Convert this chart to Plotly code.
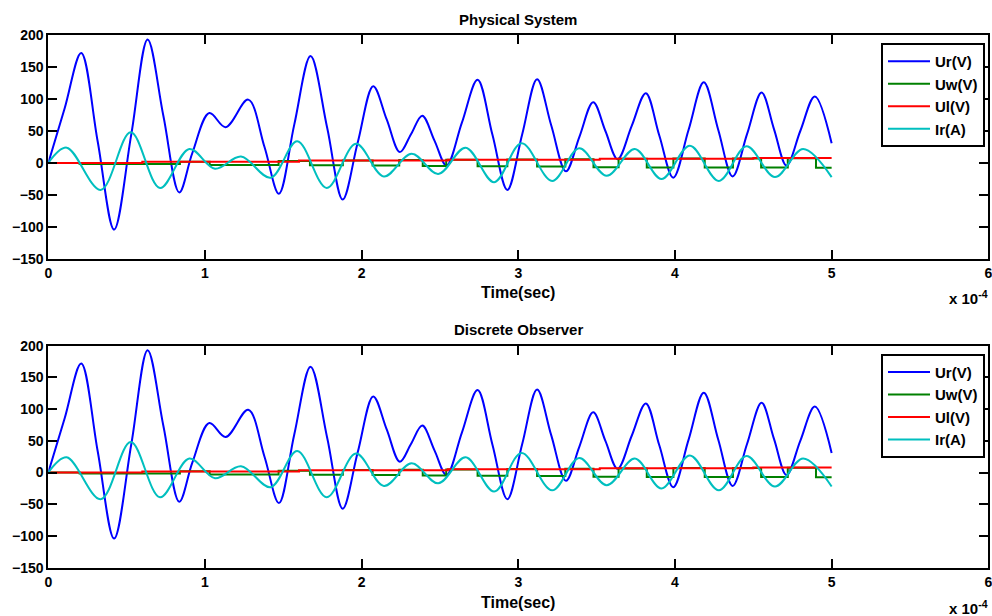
import plotly.graph_objects as go

# ---- data (time in units of 1e-4 s) ----
ur_t = [0, 0.105, 0.21, 0.315, 0.42, 0.53, 0.634, 0.735, 0.836, 0.92, 1.028, 1.132, 1.276,
        1.38, 1.472, 1.57, 1.674, 1.78, 1.879, 1.975, 2.074, 2.16, 2.244, 2.315, 2.387,
        2.465, 2.542, 2.64, 2.74, 2.835, 2.93, 3.025, 3.12, 3.21, 3.304, 3.39, 3.478,
        3.556, 3.634, 3.724, 3.814, 3.90, 3.989, 4.087, 4.184, 4.276, 4.368, 4.46, 4.553,
        4.632, 4.712, 4.80, 4.893, 5.0]
ur_v = [0, 86, 172, 34, -104, 45, 193, 73, -46, 16, 78, 56, 99,
        25, -48, 60, 167, 55, -57, 32, 120, 68, 17, 45, 74,
        35, -4, 63, 130, 44, -42, 45, 131, 59, -13, 41, 95,
        50, 6, 58, 109, 43, -23, 52, 126, 52, -21, 45, 110,
        53, -4, 50, 104, 31]

ir_t = [0, 0.117, 0.334, 0.526, 0.713, 0.9, 1.064, 1.23, 1.419, 1.589, 1.777, 1.964, 2.142,
        2.319, 2.489, 2.664, 2.846, 3.021, 3.216, 3.389, 3.564, 3.744, 3.914, 4.095, 4.28,
        4.457, 4.638, 4.818, 5.0]
ir_v = [0, 24, -42, 48, -39, 22, -9, 10, -23, 34, -39, 30, -21,
        14.5, -17, 24, -30, 31, -28, 23, -20, 22, -25, 27, -28,
        26, -22, 22, -22]

uw_t = [0, 0.2, 0.84, 1.03, 1.47, 1.67, 1.88, 2.07, 2.24, 2.39, 2.54, 2.74, 2.93, 3.12,
        3.30, 3.48, 3.64, 3.82, 3.99, 4.19, 4.37, 4.55, 4.72, 4.90, 5.0]
uw_v = [0, -1.5, 2, -3, 3, -3.5, 4, -4, 4.5, -4.5, 5, -5, 5.5, -5.5,
        6, -6.5, 6.5, -7, 7, -7, 7, -7, 7.5, -7.5, -7.5]

ul_t = [0, 0.6, 1.6, 2.55, 3.52, 4.5, 5.0]
ul_v = [0, 1.8, 3.8, 5.2, 6.8, 8.0, 8.0]

x_ticks = [0, 1, 2, 3, 4, 5, 6]
y_ticks = [-150, -100, -50, 0, 50, 100, 150, 200]
titles = ["Physical System", "Discrete Observer"]
names = ["Ur(V)", "Uw(V)", "Ul(V)", "Ir(A)"]
colors = ["#0000FF", "#008000", "#FF0000", "#00BFBF"]

W, H = 992, 616
FONT = "Liberation Sans, Arial, sans-serif"

fig = go.Figure()

# pixel geometry of the two axes boxes
x0_px, x1_px = 48.3, 988.3
boxes = [(35, 259), (345.7, 567.7)]

series = [(ur_t, ur_v, "spline"), (uw_t, uw_v, "hv"), (ul_t, ul_v, "hv"), (ir_t, ir_v, "spline")]

for k in range(2):
    xa = "x" if k == 0 else "x2"
    ya = "y" if k == 0 else "y2"
    lg = "legend" if k == 0 else "legend2"
    for (t, v, shape), nm, c in zip(series, names, colors):
        fig.add_trace(go.Scatter(
            x=t, y=v, mode="lines", name=nm,
            line=dict(color=c, width=2, shape=shape, smoothing=1),
            xaxis=xa, yaxis=ya, legend=lg, showlegend=True))

axis_common = dict(
    showline=True, linecolor="black", linewidth=2, mirror="allticks",
    ticks="inside", ticklen=9, tickwidth=2, tickcolor="black",
    showgrid=False, zeroline=False, automargin=False, ticklabeloverflow="allow",
    tickfont=dict(family=FONT, size=14, color="black", weight="bold"),
)

for k, (top, bot) in enumerate(boxes):
    sfx = "" if k == 0 else "2"
    fig.update_layout(**{
        "xaxis" + sfx: dict(axis_common, domain=[x0_px / W, x1_px / W], range=[0, 6],
                            tickvals=x_ticks, anchor="y" + sfx),
        "yaxis" + sfx: dict(axis_common, domain=[1 - bot / H, 1 - top / H], range=[-150, 200],
                            tickvals=y_ticks, anchor="x" + sfx),
    })

legend_common = dict(
    bgcolor="white", bordercolor="black", borderwidth=2,
    font=dict(family=FONT, size=15, color="black", weight="bold"),
    xanchor="right", yanchor="top", x=985 / W, tracegroupgap=0, itemwidth=42,
)
fig.update_layout(
    legend=dict(legend_common, y=1 - 43 / H),
    legend2=dict(legend_common, y=1 - (43 + 310.7) / H),
)

ann = []
cx = (x0_px + x1_px) / 2 / W
for k, (top, bot) in enumerate(boxes):
    off = 0 if k == 0 else 310.7
    ann.append(dict(text=titles[k], x=cx, y=1 - (19 + off) / H, xref="paper", yref="paper",
                    showarrow=False, xanchor="center", yanchor="middle",
                    font=dict(family=FONT, size=15, color="black", weight="bold")))
    ann.append(dict(text="Time(sec)", x=cx, y=1 - (292 + off) / H, xref="paper", yref="paper",
                    showarrow=False, xanchor="center", yanchor="middle",
                    font=dict(family=FONT, size=16, color="black", weight="bold")))
    ann.append(dict(text="x 10<sup>-4</sup>", x=990 / W, y=1 - (297 + off) / H, xref="paper",
                    yref="paper", showarrow=False, xanchor="right", yanchor="middle",
                    font=dict(family=FONT, size=15, color="black", weight="bold")))

fig.update_layout(
    width=W, height=H, margin=dict(l=0, r=0, t=0, b=0, autoexpand=False),
    paper_bgcolor="white", plot_bgcolor="white",
    annotations=ann, showlegend=True,
    font=dict(family=FONT, color="black", weight="bold"),
)

fig.write_html("out.html",
               post_script="document.body.style.margin='0';document.body.style.overflow='hidden';")
